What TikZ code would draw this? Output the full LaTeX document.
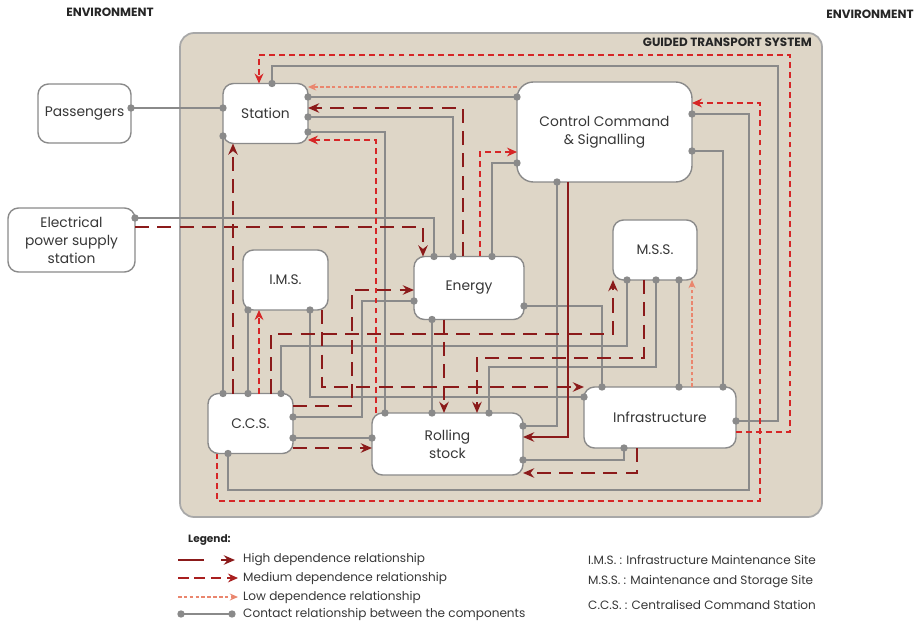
\documentclass[tikz,border=0pt]{standalone}
\usepackage{fontspec}
\setmainfont{Poppins}
\usepackage{tikz}
\usetikzlibrary{arrows.meta,positioning}
\definecolor{frameBeige}{RGB}{222,214,199}
\definecolor{frameGray}{RGB}{168,168,168}
\definecolor{contactGray}{RGB}{138,138,138}
\definecolor{textGray}{RGB}{55,55,55}
\definecolor{highRed}{RGB}{139,26,26}
\definecolor{medRed}{RGB}{214,38,38}
\definecolor{lowSalmon}{RGB}{234,134,110}

\tikzset{
  boxsize/.style 2 args={minimum width=#1*0.03cm, minimum height=#2*0.03cm},
  comp/.style={draw=contactGray, line width=1.2pt, fill=white, rounded corners=9pt,
    align=center, text=textGray, inner sep=2pt, outer sep=0pt,
    font=\fontsize{11.8}{15.3}\selectfont},
  sysframe/.style={draw=frameGray, line width=1.5pt, fill=frameBeige,
    rounded corners=12pt, outer sep=0pt},
  caps/.style={font=\bfseries\fontsize{10.2}{12}\selectfont, text=black!85, inner sep=0pt},
  legtext/.style={anchor=west, inner sep=0pt, text=textGray,
    font=\fontsize{10.3}{12}\selectfont},
  contact/.style={draw=contactGray, line width=1.4pt,
    shorten <=-3.1pt, shorten >=-3.1pt,
    {Circle[length=6.2pt]}-{Circle[length=6.2pt]}},
  high/.style={draw=highRed, line width=1.8pt, dash pattern=on 12pt off 7pt,
    -{Stealth[length=9.5pt,width=8pt]}},
  highsolid/.style={high, solid},
  medium/.style={draw=medRed, line width=1.5pt, dash pattern=on 5pt off 3.5pt,
    -{Stealth[length=8.5pt,width=7.5pt]}},
  low/.style={draw=lowSalmon, line width=1.1pt, dash pattern=on 3pt off 2pt,
    -{Stealth[length=7pt,width=6pt]}}
}

\begin{document}
\begin{tikzpicture}[x=0.03cm, y=-0.03cm]
  \useasboundingbox (0,0) rectangle (923,623);

  % environment and system frame
  \node[caps] (envl) at (110,12) {ENVIRONMENT};
  \node[caps] (envr) at (870,14) {ENVIRONMENT};
  \node[sysframe, boxsize={642}{484}] (gts) at (501,275) {};
  \node[caps, anchor=north east] (gtslbl) at (812,38) {GUIDED TRANSPORT SYSTEM};

  % components
  \node[comp, boxsize={93}{59}] (pass) at (84.5,113.5) {Passengers};
  \node[comp, boxsize={127}{64}] (eps) at (71.5,240) {Electrical\\power supply\\station};
  \node[comp, boxsize={85}{60}] (stat) at (265.5,113.5) {Station};
  \node[comp, boxsize={175}{100}, rounded corners=14pt] (ctrl) at (604.5,132)
    {Control Command\\\& Signalling};
  \node[comp, boxsize={85}{60}] (ims) at (285.5,280) {I.M.S.};
  \node[comp, boxsize={110}{63}] (enrg) at (469,288) {Energy};
  \node[comp, boxsize={84}{60}] (mss) at (655,250) {M.S.S.};
  \node[comp, boxsize={85}{60}] (ccs) at (250.5,423.5) {C.C.S.};
  \node[comp, boxsize={151}{62}] (rs) at (447.5,444) {Rolling\\stock};
  \node[comp, boxsize={152}{61}] (infra) at (660,417.5) {Infrastructure};

  % contact relationships
  \draw[contact] (pass.east |- 0,108) -- (stat.west |- 0,108);
  \draw[contact] (stat.west |- 0,136) -- (ccs.north -| 223,0);
  \draw[contact] (stat.north -| 272,0) -- (272,66) -- (778,66) -- (778,421) -- (infra.east |- 0,421);
  \draw[contact] (stat.east |- 0,97) -- (ctrl.west |- 0,97);
  \draw[contact] (stat.east |- 0,117) -| (enrg.north -| 453,0);
  \draw[contact] (stat.east |- 0,132) -| (rs.north -| 385,0);
  \draw[contact] (eps.east |- 0,218) -| (enrg.north -| 434,0);
  \draw[contact] (ctrl.west |- 0,163) -| (enrg.north -| 492,0);
  \draw[contact] (ctrl.south -| 557,0) |- (rs.east |- 0,426);
  \draw[contact] (ctrl.east |- 0,114) -- (749,114) -- (749,490) -| (ccs.south -| 228,0);
  \draw[contact] (ctrl.east |- 0,151) -| (infra.north -| 723,0);
  \draw[contact] (ims.south -| 248,0) -- (ccs.north -| 248,0);
  \draw[contact] (ims.south -| 310,0) |- (infra.west |- 0,397);
  \draw[contact] (ccs.east |- 0,417) -- (362,417) |- (enrg.west |- 0,301);
  \draw[contact] (ccs.east |- 0,438) -- (rs.west |- 0,438);
  \draw[contact] (ccs.north -| 281,0) |- (627,346) -- (mss.south -| 627,0);
  \draw[contact] (mss.south -| 656,0) |- (489,367) -- (rs.north -| 489,0);
  \draw[contact] (mss.south -| 679,0) -- (infra.north -| 679,0);
  \draw[contact] (enrg.east |- 0,306) -| (infra.north -| 602,0);
  \draw[contact] (enrg.south -| 432,0) -- (rs.north -| 432,0);
  \draw[contact] (infra.south -| 624,0) |- (rs.east |- 0,460);

  % high dependence
  \draw[highsolid] (ctrl.south -| 568,0) |- (rs.east |- 0,437);
  \draw[high] (enrg.north -| 463,0) |- (stat.east |- 0,108);
  \draw[high] (eps.east |- 0,227) -| (enrg.north -| 423,0);
  \draw[high] (ccs.north -| 233,0) -- (stat.south -| 233,0);
  \draw[high] (ccs.north -| 271,0) |- (613,334) -- (mss.south -| 613,0);
  \draw[high] (ims.south -| 322,0) |- (infra.west |- 0,387);
  \draw[high] (ccs.east |- 0,406) -- (352,406) |- (enrg.west |- 0,290);
  \draw[high] (enrg.south -| 444,0) -- (rs.north -| 444,0);
  \draw[high] (mss.south -| 644,0) |- (477,358) -- (rs.north -| 477,0);
  \draw[high] (ccs.east |- 0,448) -- (rs.west |- 0,448);
  \draw[high] (infra.south -| 637,0) |- (rs.east |- 0,473);

  % medium dependence
  \draw[medium] (infra.east |- 0,432) -- (790,432) -- (790,55) -| (stat.north -| 259,0);
  \draw[medium] (ccs.south -| 217,0) |- (760,501) -- (760,103) -- (ctrl.east |- 0,103);
  \draw[medium] (rs.north -| 376,0) |- (stat.east |- 0,140);
  \draw[medium] (ccs.north -| 259,0) -- (ims.south -| 259,0);
  \draw[medium] (enrg.north -| 480,0) |- (ctrl.west |- 0,152);

  % low dependence
  \draw[low] (ctrl.west |- 0,87) -- (stat.east |- 0,87);
  \draw[low] (infra.north -| 692,0) -- (mss.south -| 692,0);

  % legend
  \node[caps, anchor=west, font=\bfseries\fontsize{9}{10}\selectfont] (lgd) at (188,540) {Legend:};
  \node[legtext] (lgH) at (243,560) {High dependence relationship};
  \node[legtext] (lgM) at (243,578) {Medium dependence relationship};
  \node[legtext] (lgL) at (243,597) {Low dependence relationship};
  \node[legtext] (lgC) at (243,614) {Contact relationship between the components};
  \draw[high, dash pattern=on 22pt off 15pt] (lgH.west) ++(-65,0) -- ++(57,0);
  \draw[medium, draw=highRed!60!medRed, dash pattern=on 9pt off 5pt] (lgM.west) ++(-65,0) -- ++(60,0);
  \draw[low] (lgL.west) ++(-65,0) -- ++(60,0);
  \draw[contact] (lgC.west) ++(-62,0) -- ++(51,0);

  \node[legtext] (abIMS) at (588,560) {I.M.S. : Infrastructure Maintenance Site};
  \node[legtext] (abMSS) at (588,582) {M.S.S. : Maintenance and Storage Site};
  \node[legtext] (abCCS) at (588,605) {C.C.S. : Centralised Command Station};
\end{tikzpicture}
\end{document}
